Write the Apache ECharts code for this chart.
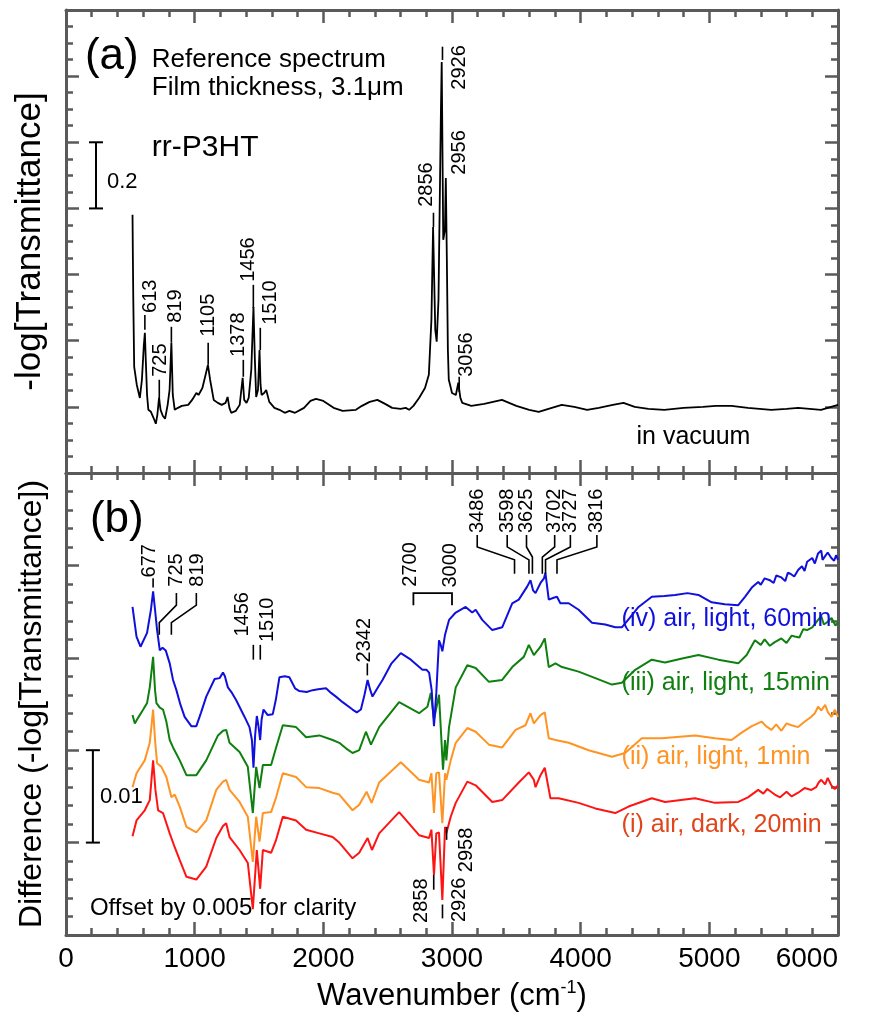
<!DOCTYPE html>
<html>
<head>
<meta charset="utf-8">
<script src="https://cdn.jsdelivr.net/npm/echarts@6/dist/echarts.min.js"></script>
<style>
  html, body { margin: 0; padding: 0; background: #ffffff; }
  #chart { width: 877px; height: 1016px; }
</style>
</head>
<body>
<div id="chart"></div>
<script>
// ---- (a) reference spectrum of rr-P3HT film in vacuum: [wavenumber (cm-1), -log T]
const referenceSpectrum = [
  [517,0.581],[520,0.445],[523,0.324],[530,0.121],[550,0.067],[574,0.027],[590,0.082],[605,0.187],
  [613,0.224],[620,0.142],[630,0.036],[640,-0.009],[660,-0.015],[680,-0.033],[698,-0.051],[710,-0.024],
  [723,0.027],[735,-0.009],[752,-0.027],[770,-0.036],[790,0.006],[805,0.051],[819,0.194],[830,0.036],
  [845,-0.009],[870,-0.003],[900,0.003],[950,0.006],[980,0.021],[1013,0.042],[1030,0.036],[1060,0.057],
  [1085,0.097],[1103,0.127],[1120,0.082],[1148,0.021],[1180,0.012],[1210,0.006],[1240,0.012],[1256,0.030],
  [1270,-0.003],[1284,-0.018],[1320,-0.012],[1350,0.006],[1373,0.088],[1385,0.021],[1403,0.012],[1420,0.027],
  [1440,0.112],[1457,0.302],[1468,0.142],[1478,0.030],[1492,0.051],[1504,0.172],[1512,0.067],[1520,0.036],
  [1540,0.042],[1556,0.051],[1580,0.015],[1620,-0.003],[1659,-0.009],[1700,-0.018],[1737,-0.012],[1780,-0.018],
  [1850,-0.003],[1900,0.018],[1943,0.024],[2000,0.018],[2080,-0.003],[2150,-0.012],[2253,-0.009],[2300,0.003],
  [2360,0.015],[2420,0.021],[2480,0.009],[2535,-0.003],[2600,-0.006],[2640,-0.003],[2667,-0.009],[2700,0.003],
  [2744,0.027],[2790,0.057],[2820,0.097],[2840,0.263],[2853,0.544],[2860,0.414],[2870,0.233],[2881,0.197],
  [2895,0.324],[2905,0.626],[2914,0.898],[2920,1.043],[2932,0.505],[2945,0.535],[2952,0.692],[2960,0.445],
  [2968,0.172],[2975,0.082],[2985,0.067],[3000,0.042],[3030,0.036],[3049,0.073],[3065,0.027],[3080,0.012],
  [3150,0.003],[3250,0.009],[3388,0.021],[3500,0.003],[3600,-0.009],[3674,-0.015],[3750,-0.006],[3853,0.006],
  [3950,0],[4050,-0.009],[4140,-0.003],[4250,0.006],[4333,0.012],[4420,0],[4527,-0.006],[4650,-0.009],
  [4800,-0.003],[4950,0],[5050,0.003],[5171,0.003],[5300,-0.003],[5481,-0.009],[5600,-0.006],[5690,-0.003],
  [5868,-0.009],[6000,0.006]
];

// ---- (b) difference spectra, plotted with a 0.005 offset between traces
// (iv) air, light, 60 min
const airLight60 = [
  [517,0.0355],[548,0.0323],[579,0.0312],[630,0.0327],[660,0.0352],[677,0.0372],[692,0.0352],[708,0.0330],
  [729,0.0308],[750,0.0311],[775,0.0308],[806,0.0294],[832,0.0276],[858,0.0265],[890,0.0249],[922,0.0236],
  [974,0.0226],[1013,0.0226],[1050,0.0241],[1090,0.0258],[1155,0.0277],[1194,0.0278],[1220,0.0284],[1235,0.0280],
  [1246,0.0281],[1258,0.0268],[1290,0.0262],[1323,0.0254],[1388,0.0236],[1426,0.0225],[1445,0.0211],[1457,0.0181],
  [1470,0.0216],[1483,0.0237],[1495,0.0227],[1509,0.0211],[1520,0.0233],[1535,0.0244],[1568,0.0238],[1607,0.0239],
  [1630,0.0254],[1659,0.0279],[1700,0.0280],[1736,0.0279],[1780,0.0267],[1814,0.0264],[1870,0.0263],[1917,0.0265],
  [1960,0.0266],[2021,0.0267],[2060,0.0262],[2098,0.0258],[2150,0.0252],[2227,0.0244],[2260,0.0241],[2292,0.0244],
  [2320,0.0260],[2344,0.0276],[2365,0.0265],[2382,0.0258],[2420,0.0267],[2460,0.0276],[2530,0.0294],[2602,0.0305],
  [2680,0.0298],[2770,0.0287],[2801,0.0287],[2822,0.0284],[2842,0.0265],[2860,0.0226],[2878,0.0262],[2899,0.0319],
  [2912,0.0314],[2925,0.0307],[2946,0.0325],[2977,0.0341],[3029,0.0349],[3106,0.0355],[3157,0.0349],[3184,0.0352],
  [3235,0.0341],[3313,0.0330],[3390,0.0333],[3468,0.0359],[3519,0.0363],[3584,0.0377],[3610,0.0384],[3630,0.0373],
  [3649,0.0370],[3688,0.0381],[3715,0.0386],[3726,0.0392],[3752,0.0363],[3790,0.0365],[3816,0.0366],[3842,0.0359],
  [3907,0.0359],[3984,0.0352],[4088,0.0338],[4191,0.0336],[4269,0.0333],[4320,0.0333],[4380,0.0343],[4450,0.0355],
  [4553,0.0366],[4650,0.0367],[4734,0.0368],[4830,0.0370],[4915,0.0368],[5018,0.0360],[5120,0.0358],[5225,0.0357],
  [5277,0.0366],[5330,0.0376],[5380,0.0382],[5400,0.0379],[5430,0.0386],[5470,0.0384],[5500,0.0381],[5520,0.0389],
  [5560,0.0387],[5590,0.0383],[5610,0.0392],[5630,0.0391],[5660,0.0388],[5690,0.0395],[5720,0.0399],[5740,0.0394],
  [5760,0.0404],[5800,0.0408],[5820,0.0402],[5845,0.0413],[5870,0.0416],[5880,0.0406],[5900,0.0410],[5920,0.0414],
  [5948,0.0408],[5970,0.0405],[5985,0.0411],[6000,0.0406]
];
// (iii) air, light, 15 min
const airLight15 = [
  [517,0.0238],[535,0.0229],[560,0.0235],[600,0.0244],[630,0.0251],[651,0.0268],[677,0.0301],[692,0.0265],
  [703,0.0251],[729,0.0246],[754,0.0244],[780,0.0231],[806,0.0211],[832,0.0203],[884,0.0189],[936,0.0173],
  [1013,0.0173],[1090,0.0189],[1181,0.0216],[1220,0.0221],[1245,0.0222],[1271,0.0208],[1349,0.0198],[1413,0.0182],
  [1452,0.0132],[1478,0.0182],[1504,0.0159],[1530,0.0184],[1594,0.0184],[1633,0.0203],[1685,0.0227],[1788,0.0225],
  [1866,0.0214],[1969,0.0216],[2072,0.0211],[2124,0.0208],[2176,0.0202],[2227,0.0197],[2279,0.0200],[2331,0.0220],
  [2370,0.0206],[2434,0.0225],[2589,0.0252],[2744,0.0240],[2809,0.0247],[2835,0.0262],[2860,0.0233],[2899,0.0260],
  [2930,0.0179],[2946,0.0211],[2956,0.0189],[2977,0.0225],[3029,0.0268],[3119,0.0292],[3184,0.0289],[3287,0.0274],
  [3390,0.0276],[3468,0.0290],[3558,0.0301],[3597,0.0314],[3636,0.0303],[3649,0.0301],[3688,0.0312],[3721,0.0321],
  [3752,0.0290],[3804,0.0294],[3855,0.0290],[3984,0.0285],[4114,0.0278],[4243,0.0271],[4320,0.0273],[4424,0.0287],
  [4553,0.0298],[4656,0.0295],[4780,0.0299],[4915,0.0303],[5070,0.0298],[5225,0.0294],[5290,0.0303],[5354,0.0319],
  [5400,0.0314],[5430,0.0320],[5470,0.0313],[5509,0.0317],[5560,0.0321],[5600,0.0316],[5640,0.0324],[5664,0.0323],
  [5700,0.0322],[5730,0.0331],[5760,0.0330],[5800,0.0333],[5845,0.0341],[5870,0.0345],[5890,0.0336],[5920,0.0339],
  [5950,0.0343],[5980,0.0335],[6000,0.0338]
];
// (ii) air, light, 1 min
const airLight1 = [
  [517,0.0160],[548,0.0175],[612,0.0189],[651,0.0208],[677,0.0244],[692,0.0211],[708,0.0186],[741,0.0182],
  [780,0.0171],[819,0.0149],[845,0.0152],[884,0.0139],[936,0.0117],[1013,0.0111],[1090,0.0124],[1168,0.0157],
  [1220,0.0166],[1245,0.0168],[1271,0.0157],[1349,0.0144],[1413,0.0128],[1452,0.0079],[1478,0.0128],[1504,0.0101],
  [1530,0.0132],[1594,0.0133],[1633,0.0149],[1685,0.0175],[1788,0.0171],[1866,0.0160],[1969,0.0159],[2072,0.0154],
  [2124,0.0152],[2227,0.0135],[2279,0.0141],[2336,0.0155],[2375,0.0143],[2434,0.0165],[2602,0.0187],[2744,0.0168],
  [2822,0.0165],[2840,0.0175],[2860,0.0132],[2878,0.0175],[2899,0.0176],[2925,0.0121],[2946,0.0175],[2956,0.0168],
  [2990,0.0189],[3029,0.0208],[3119,0.0224],[3184,0.0220],[3287,0.0206],[3390,0.0203],[3494,0.0222],[3571,0.0227],
  [3610,0.0240],[3636,0.0229],[3649,0.0227],[3688,0.0238],[3721,0.0241],[3752,0.0213],[3804,0.0211],[3907,0.0208],
  [4062,0.0200],[4243,0.0193],[4346,0.0197],[4475,0.0213],[4630,0.0213],[4889,0.0216],[5044,0.0213],[5173,0.0211],
  [5251,0.0219],[5330,0.0226],[5406,0.0231],[5440,0.0226],[5483,0.0222],[5520,0.0228],[5560,0.0221],[5600,0.0229],
  [5638,0.0227],[5690,0.0225],[5742,0.0231],[5790,0.0236],[5820,0.0240],[5845,0.0247],[5870,0.0243],[5900,0.0249],
  [5922,0.0241],[5950,0.0236],[5975,0.0244],[6000,0.0236]
];
// (i) air, dark, 20 min
const airDark20 = [
  [517,0.0107],[548,0.0124],[612,0.0135],[651,0.0146],[677,0.0189],[695,0.0157],[716,0.0135],[754,0.0132],
  [806,0.0110],[845,0.0095],[884,0.0081],[936,0.0063],[1013,0.0060],[1090,0.0074],[1168,0.0105],[1220,0.0118],
  [1245,0.0121],[1271,0.0106],[1349,0.0092],[1413,0.0078],[1452,0.0028],[1483,0.0092],[1509,0.0050],[1530,0.0092],
  [1594,0.0089],[1633,0.0103],[1685,0.0128],[1788,0.0124],[1866,0.0114],[1969,0.0110],[2072,0.0106],[2124,0.0100],
  [2227,0.0083],[2279,0.0089],[2344,0.0105],[2378,0.0092],[2434,0.0110],[2589,0.0133],[2744,0.0108],[2822,0.0105],
  [2840,0.0114],[2860,0.0065],[2878,0.0110],[2899,0.0111],[2925,0.0038],[2946,0.0117],[2956,0.0110],[2990,0.0128],
  [3029,0.0143],[3119,0.0166],[3184,0.0162],[3313,0.0144],[3390,0.0146],[3519,0.0165],[3597,0.0176],[3636,0.0168],
  [3649,0.0160],[3688,0.0173],[3721,0.0181],[3765,0.0148],[3829,0.0148],[3984,0.0143],[4114,0.0137],[4269,0.0132],
  [4372,0.0139],[4553,0.0148],[4656,0.0144],[4889,0.0148],[5044,0.0143],[5225,0.0144],[5300,0.0149],[5380,0.0157],
  [5420,0.0153],[5450,0.0158],[5509,0.0152],[5550,0.0149],[5600,0.0155],[5640,0.0150],[5690,0.0154],[5740,0.0159],
  [5793,0.0157],[5830,0.0160],[5850,0.0165],[5870,0.0168],[5900,0.0163],[5920,0.0170],[5948,0.0162],[5975,0.0158],
  [6000,0.0162]
];

// axis ranges
const xRange = [0, 6000];
const xStep = 1000;
const yRangeA = [-0.2, 1.2];
const yStepA = 0.2;
const yRangeB = [0, 0.05];
const yStepB = 0.01;

// ---- annotation layout (data coordinates: wavenumber, ordinate)
const peakLabelsA = [
  { text: '613',  at: 613,  tick: [0.233, 0.278], pos: [659, 0.284] },
  { text: '725',  at: 725,  tick: [0.015, 0.082], pos: [736, 0.091] },
  { text: '819',  at: 819,  tick: [0.194, 0.242], pos: [853, 0.254] },
  { text: '1105', at: 1105, tick: [0.127, 0.194], pos: [1109, 0.212] },
  { text: '1378', at: 1378, tick: [0.091, 0.142], pos: [1341, 0.151] },
  { text: '1456', at: 1456, tick: [0.299, 0.369], pos: [1419, 0.378] },
  { text: '1510', at: 1510, tick: [0.172, 0.239], pos: [1589, 0.248] },
  { text: '2856', at: 2856, tick: [0.544, 0.587], pos: [2798, 0.605] },
  { text: '2926', at: 2926, tick: [1.049, 1.089], pos: [3062, 0.959] },
  { text: '2956', at: null, tick: null,           pos: [3062, 0.702] },
  { text: '3056', at: 3056, tick: [0.045, 0.091], pos: [3116, 0.091] }
];
const peakLabelsB = [
  { text: '677',  at: 677,  tick: [0.0376, 0.0386], pos: [651, 0.0387] },
  { text: '1456', at: 1456, tick: [0.0298, 0.0314], pos: [1374, 0.0323] },
  { text: '1510', at: 1510, tick: [0.0298, 0.0314], pos: [1566, 0.0317] },
  { text: '2342', at: 2342, tick: [0.0281, 0.0294], pos: [2318, 0.0295] },
  { text: '2858', at: 2858, tick: [0.0049, 0.0065], pos: [2764, 0.0013] },
  { text: '2926', at: 2926, tick: [0.0018, 0.0033], pos: [3062, 0.0014] },
  { text: '2958', at: 2958, tick: [0.0103, 0.0117], pos: [3109, 0.0068] }
];
const bentLabelsB = [
  { text: '725', pos: [858, 0.0377],  path: [[858, 0.0370], [858, 0.0357], [725, 0.0338], [725, 0.0325]] },
  { text: '819', pos: [1023, 0.0377], path: [[1013, 0.0370], [1013, 0.0357], [819, 0.0338], [819, 0.0325]] }
];
const bracketB = { texts: [['2700', 2680, 0.0377], ['3000', 2990, 0.0376]],
  path: [[2700, 0.0357], [2700, 0.0370], [3000, 0.0370], [3000, 0.0357]] };
const ohLabels = [
  { text: '3486', top: 3196, at: 3486, knee: 0.0406 },
  { text: '3598', top: 3429, at: 3598, knee: 0.0406 },
  { text: '3625', top: 3579, at: 3625, knee: 0.0409 },
  { text: '3702', top: 3798, at: 3702, knee: 0.0409 },
  { text: '3727', top: 3920, at: 3727, knee: 0.0406 },
  { text: '3816', top: 4126, at: 3816, knee: 0.0406 }
];

const FONT = "'Liberation Sans', Arial, Helvetica, sans-serif";
const GRAY = '#5a5a5a';
const COLORS = { iv: '#1010dc', iii: '#0f800f', ii: '#ff9424', i: '#ff1414', iLabel: '#e0461c' };

const chart = echarts.init(document.getElementById('chart'), null, { renderer: 'canvas' });

const tickLine = { color: GRAY, width: 2.5 };
function xAxisDef(grid, position, showLabels) {
  return {
    type: 'value', gridIndex: grid, position: position,
    min: xRange[0], max: xRange[1], interval: xStep,
    axisLine: { show: true, onZero: false, lineStyle: { color: GRAY, width: 3 } },
    axisTick: { show: true, inside: true, length: 13, lineStyle: tickLine },
    minorTick: { show: true, splitNumber: 5, length: 7, lineStyle: tickLine },
    splitLine: { show: false }, minorSplitLine: { show: false },
    axisLabel: {
      show: showLabels, color: '#000', fontFamily: FONT, fontSize: 28, margin: 10,
      alignMaxLabel: 'right', formatter: v => String(v)
    },
    name: showLabels ? 'Wavenumber (cm{sup|-1})' : '',
    nameLocation: 'middle', nameGap: 44,
    nameTextStyle: {
      color: '#000', fontFamily: FONT, fontSize: 31, lineHeight: 34,
      rich: { sup: { fontFamily: FONT, fontSize: 18, verticalAlign: 'top', lineHeight: 34, padding: [0, 0, 14, 0] } }
    }
  };
}
function yAxisDef(grid, position, range, step, split, name, nameSize) {
  return {
    type: 'value', gridIndex: grid, position: position,
    min: range[0], max: range[1], interval: step,
    axisLine: { show: true, onZero: false, lineStyle: { color: GRAY, width: 3 } },
    axisTick: { show: true, inside: true, length: 13, lineStyle: tickLine },
    minorTick: { show: true, splitNumber: split, length: 7, lineStyle: tickLine },
    splitLine: { show: false }, minorSplitLine: { show: false },
    axisLabel: { show: false },
    name: name || '', nameLocation: 'middle', nameGap: 18,
    nameTextStyle: { color: '#000', fontFamily: FONT, fontSize: nameSize || 32 }
  };
}
function trace(data, xi, yi, color, width) {
  return {
    type: 'line', data: data, xAxisIndex: xi, yAxisIndex: yi,
    showSymbol: false, symbol: 'none', smooth: false, silent: true,
    lineStyle: { color: color, width: width }, z: 3
  };
}

chart.setOption({
  animation: false,
  backgroundColor: '#ffffff',
  grid: [
    { left: 66, top: 10, width: 772, height: 463 },
    { left: 66, top: 473, width: 772, height: 462 }
  ],
  xAxis: [
    xAxisDef(0, 'bottom', false), xAxisDef(0, 'top', false),
    xAxisDef(1, 'bottom', true), xAxisDef(1, 'top', false)
  ],
  yAxis: [
    yAxisDef(0, 'left', yRangeA, yStepA, 4, '-log[Transmittance]', 35),
    yAxisDef(0, 'right', yRangeA, yStepA, 4),
    yAxisDef(1, 'left', yRangeB, yStepB, 5, 'Difference (-log[Transmittance])', 32),
    yAxisDef(1, 'right', yRangeB, yStepB, 5)
  ],
  series: [
    trace(referenceSpectrum, 0, 0, '#000000', 1.8),
    trace(airDark20, 2, 2, COLORS.i, 2),
    trace(airLight1, 2, 2, COLORS.ii, 2),
    trace(airLight15, 2, 2, COLORS.iii, 2),
    trace(airLight60, 2, 2, COLORS.iv, 2)
  ]
});

// ---- annotations drawn in pixel space from data coordinates
const els = [];
const toPx = (grid, x, y) => chart.convertToPixel({ xAxisIndex: grid * 2, yAxisIndex: grid * 2 }, [x, y]);
function seg(points, color, width) {
  els.push({ type: 'polyline', silent: true, z: 10,
    shape: { points: points }, style: { stroke: color || '#000', lineWidth: width || 1.6, fill: null } });
}
function vText(text, p, size) {
  els.push({ type: 'text', silent: true, z: 10, x: p[0], y: p[1], rotation: Math.PI / 2,
    style: { text: text, fontFamily: FONT, fontSize: size || 20, fill: '#000',
      align: 'left', textAlign: 'left', verticalAlign: 'middle', textVerticalAlign: 'middle' } });
}
function hText(text, p, size, color) {
  els.push({ type: 'text', silent: true, z: 10, x: p[0], y: p[1],
    style: { text: text, fontFamily: FONT, fontSize: size, fill: color || '#000',
      align: 'left', textAlign: 'left', verticalAlign: 'middle', textVerticalAlign: 'middle' } });
}
function scaleBar(grid, x, y0, y1) {
  const a = toPx(grid, x, y0), b = toPx(grid, x, y1);
  seg([a, b], '#000', 2);
  seg([[a[0] - 7, a[1]], [a[0] + 7, a[1]]], '#000', 2);
  seg([[b[0] - 7, b[1]], [b[0] + 7, b[1]]], '#000', 2);
}

// panel (a)
hText('(a)', toPx(0, 147, 1.058), 44);
hText('Reference spectrum', toPx(0, 667, 1.049), 26);
hText('Film thickness, 3.1\u03bcm', toPx(0, 667, 0.965), 26);
hText('rr-P3HT', toPx(0, 667, 0.785), 30);
hText('in vacuum', toPx(0, 4434, -0.091), 25);
scaleBar(0, 233, 0.6, 0.8);
hText('0.2', toPx(0, 318, 0.68), 22);
peakLabelsA.forEach(l => {
  if (l.tick) seg([toPx(0, l.at, l.tick[0]), toPx(0, l.at, l.tick[1])], '#000', 1.6);
  vText(l.text, toPx(0, l.pos[0], l.pos[1]), 20);
});

// panel (b)
hText('(b)', toPx(1, 186, 0.0449), 44);
scaleBar(1, 209, 0.01, 0.02);
hText('0.01', toPx(1, 264, 0.0149), 22);
hText('Offset by 0.005 for clarity', toPx(1, 186, 0.0029), 24);
hText('(iv) air, light, 60min', toPx(1, 4318, 0.0342), 25, COLORS.iv);
hText('(iii) air, light, 15min', toPx(1, 4318, 0.0273), 25, COLORS.iii);
hText('(ii) air, light, 1min', toPx(1, 4318, 0.0193), 25, COLORS.ii);
hText('(i) air, dark, 20min', toPx(1, 4318, 0.0119), 25, COLORS.iLabel);
peakLabelsB.forEach(l => {
  seg([toPx(1, l.at, l.tick[0]), toPx(1, l.at, l.tick[1])], '#000', 1.6);
  vText(l.text, toPx(1, l.pos[0], l.pos[1]), 20);
});
bentLabelsB.forEach(l => {
  seg(l.path.map(p => toPx(1, p[0], p[1])), '#000', 1.6);
  vText(l.text, toPx(1, l.pos[0], l.pos[1]), 20);
});
seg(bracketB.path.map(p => toPx(1, p[0], p[1])), '#000', 1.8);
bracketB.texts.forEach(t => vText(t[0], toPx(1, t[1], t[2]), 20));
ohLabels.forEach(l => {
  seg([toPx(1, l.top, 0.0433), toPx(1, l.top, 0.0420), toPx(1, l.at, l.knee), toPx(1, l.at, 0.0391)], '#000', 1.6);
  vText(l.text, toPx(1, l.top, 0.0435), 20);
});

chart.setOption({ graphic: { elements: els } });
</script>
</body>
</html>
